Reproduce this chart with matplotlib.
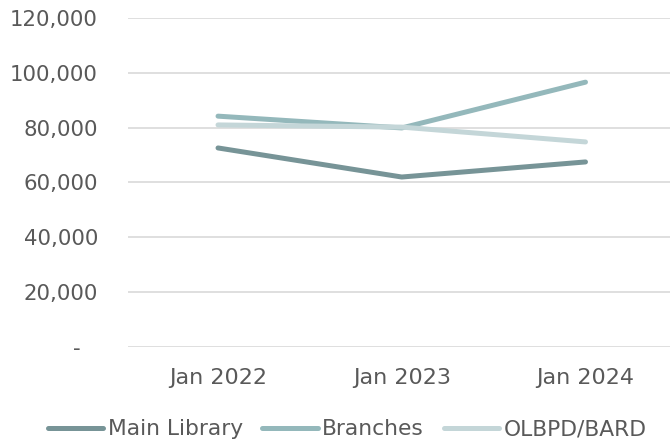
import matplotlib.pyplot as plt
from matplotlib.ticker import FuncFormatter

years = ["Jan 2022", "Jan 2023", "Jan 2024"]
main_library = [72600, 62000, 67500]
branches = [84200, 79900, 96600]
olbpd_bard = [81000, 80200, 74800]

plt.rcParams['font.family'] = ['DejaVu Sans']

fig = plt.figure(figsize=(6.70, 4.44), dpi=100)
ax = fig.add_axes([128/670, 1-347/444, 1-128/670, (347-18)/444])

x = range(len(years))
ax.plot(x, main_library, color='#779497', linewidth=3.6, solid_capstyle='round', label="Main Library")
ax.plot(x, branches, color='#94b8bb', linewidth=3.6, solid_capstyle='round', label="Branches")
ax.plot(x, olbpd_bard, color='#c4d6d8', linewidth=3.6, solid_capstyle='round', label="OLBPD/BARD")

ax.set_xlim(-0.49, 2.46)
ax.set_ylim(0, 120000)
ax.set_yticks(range(0, 120001, 20000))
ax.yaxis.set_major_formatter(FuncFormatter(lambda v, p: "-\u2007\u2009" if v == 0 else f"{int(v):,}"))
ax.set_xticks(list(x))
ax.set_xticklabels(years)

ax.grid(axis='y', color='#d9d9d9', linewidth=1.2)
ax.set_axisbelow(True)
for s in ax.spines.values():
    s.set_visible(False)
ax.tick_params(length=0, colors='#595959')
ax.tick_params(axis='y', pad=21.6, labelsize=15.3)
ax.tick_params(axis='x', pad=15, labelsize=16)

leg = fig.legend(loc='lower center', bbox_to_anchor=(0.518, -0.034), ncol=3, frameon=False,
                 fontsize=15.7, handlelength=2.55, handletextpad=0.2, columnspacing=0.9)
for t in leg.get_texts():
    t.set_color('#595959')

fig.savefig("out.png", dpi=100)
